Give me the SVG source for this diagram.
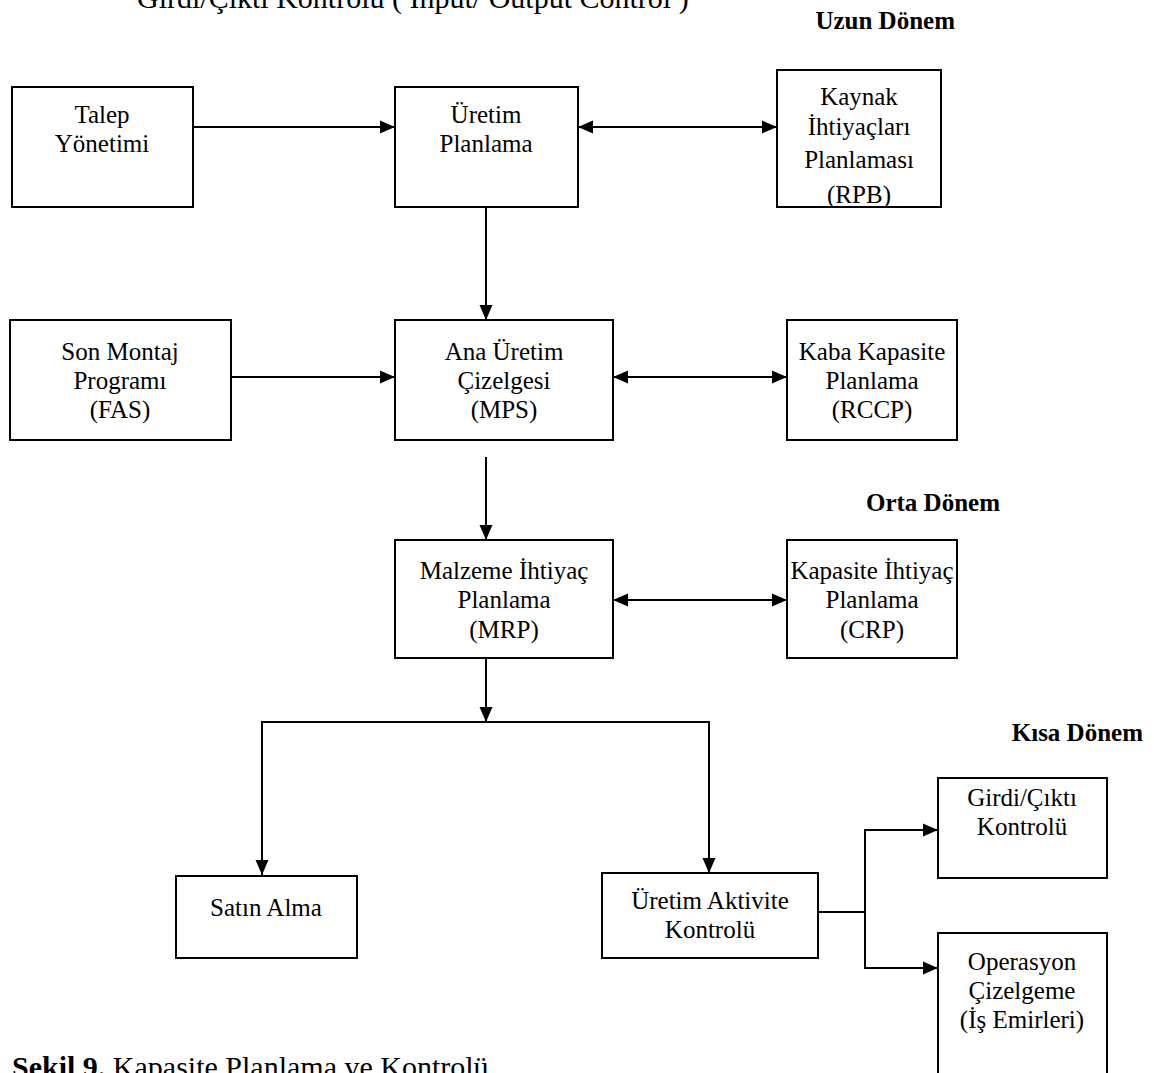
<svg xmlns="http://www.w3.org/2000/svg" width="1154" height="1073" viewBox="0 0 1154 1073">
  <style>
    .box { fill: #fff; stroke: #000; stroke-width: 2; }
    .lbl { font-family: "Liberation Serif", "Times New Roman", serif; font-size: 25px; fill: #000; text-anchor: middle; }
    .term { font-family: "Liberation Serif", "Times New Roman", serif; font-size: 25px; font-weight: bold; fill: #000; text-anchor: end; }
    .head { font-family: "Liberation Serif", "Times New Roman", serif; font-size: 30px; fill: #000; }
    .wire { fill: none; stroke: #000; stroke-width: 2; }
  </style>
  <defs>
    <marker id="tip" markerUnits="userSpaceOnUse" markerWidth="16" markerHeight="14" refX="15" refY="7" orient="auto-start-reverse">
      <path d="M0,0.5 L15,7 L0,13.5 Z" fill="#000"/>
    </marker>
    <clipPath id="rpbClip"><rect x="777" y="70" width="164" height="137"/></clipPath>
  </defs>
  <rect width="1154" height="1073" fill="#fff"/>

  <!-- heading above the chart (upper half runs off the page) -->
  <text class="head" x="137" y="8">Girdi/Çıktı Kontrolü ( Input/ Output Control )</text>

  <!-- horizon labels -->
  <text class="term" x="955" y="29">Uzun Dönem</text>
  <text class="term" x="1000" y="511">Orta Dönem</text>
  <text class="term" x="1143" y="741">Kısa Dönem</text>

  <!-- connectors -->
  <g id="connectors">
    <line class="wire" x1="189" y1="127" x2="395" y2="127" marker-end="url(#tip)"/>
    <line class="wire" x1="578" y1="127" x2="777" y2="127" marker-start="url(#tip)" marker-end="url(#tip)"/>
    <line class="wire" x1="486" y1="207" x2="486" y2="320" marker-end="url(#tip)"/>
    <line class="wire" x1="231" y1="377" x2="395" y2="377" marker-end="url(#tip)"/>
    <line class="wire" x1="613" y1="377" x2="787" y2="377" marker-start="url(#tip)" marker-end="url(#tip)"/>
    <line class="wire" x1="486" y1="457" x2="486" y2="540" marker-end="url(#tip)"/>
    <line class="wire" x1="613" y1="600" x2="787" y2="600" marker-start="url(#tip)" marker-end="url(#tip)"/>
    <line class="wire" x1="486" y1="658" x2="486" y2="722" marker-end="url(#tip)"/>
    <polyline class="wire" points="262,875 262,722 709,722 709,873"/>
    <line class="wire" x1="262" y1="740" x2="262" y2="875" marker-end="url(#tip)"/>
    <line class="wire" x1="709" y1="740" x2="709" y2="873" marker-end="url(#tip)"/>
    <polyline class="wire" points="818,912 865,912"/>
    <polyline class="wire" points="938,830 865,830 865,968 938,968"/>
    <line class="wire" x1="900" y1="830" x2="938" y2="830" marker-end="url(#tip)"/>
    <line class="wire" x1="900" y1="968" x2="938" y2="968" marker-end="url(#tip)"/>
  </g>

  <!-- long-term row -->
  <g id="talep-yonetimi">
    <rect class="box" x="12" y="87" width="181" height="120"/>
    <text class="lbl" x="102" y="123">Talep</text>
    <text class="lbl" x="102" y="152">Yönetimi</text>
  </g>
  <g id="uretim-planlama">
    <rect class="box" x="395" y="87" width="183" height="120"/>
    <text class="lbl" x="486" y="123">Üretim</text>
    <text class="lbl" x="486" y="152">Planlama</text>
  </g>
  <g id="kaynak-ihtiyaclari">
    <rect class="box" x="777" y="70" width="164" height="137"/>
    <g clip-path="url(#rpbClip)">
      <text class="lbl" x="859" y="105">Kaynak</text>
      <text class="lbl" x="859" y="135">İhtiyaçları</text>
      <text class="lbl" x="859" y="168">Planlaması</text>
      <text class="lbl" x="859" y="203">(RPB)</text>
    </g>
    <rect x="777" y="70" width="164" height="137" fill="none" stroke="#000" stroke-width="2"/>
  </g>

  <!-- master schedule row -->
  <g id="son-montaj">
    <rect class="box" x="10" y="320" width="221" height="120"/>
    <text class="lbl" x="120" y="360">Son Montaj</text>
    <text class="lbl" x="120" y="389">Programı</text>
    <text class="lbl" x="120" y="418">(FAS)</text>
  </g>
  <g id="ana-uretim">
    <rect class="box" x="395" y="320" width="218" height="120"/>
    <text class="lbl" x="504" y="360">Ana Üretim</text>
    <text class="lbl" x="504" y="389">Çizelgesi</text>
    <text class="lbl" x="504" y="418">(MPS)</text>
  </g>
  <g id="kaba-kapasite">
    <rect class="box" x="787" y="320" width="170" height="120"/>
    <text class="lbl" x="872" y="360">Kaba Kapasite</text>
    <text class="lbl" x="872" y="389">Planlama</text>
    <text class="lbl" x="872" y="418">(RCCP)</text>
  </g>

  <!-- medium-term row -->
  <g id="mrp">
    <rect class="box" x="395" y="540" width="218" height="118"/>
    <text class="lbl" x="504" y="579">Malzeme İhtiyaç</text>
    <text class="lbl" x="504" y="608">Planlama</text>
    <text class="lbl" x="504" y="638">(MRP)</text>
  </g>
  <g id="crp">
    <rect class="box" x="787" y="540" width="170" height="118"/>
    <text class="lbl" x="872" y="579">Kapasite İhtiyaç</text>
    <text class="lbl" x="872" y="608">Planlama</text>
    <text class="lbl" x="872" y="638">(CRP)</text>
  </g>

  <!-- short-term row -->
  <g id="satin-alma">
    <rect class="box" x="176" y="876" width="181" height="82"/>
    <text class="lbl" x="266" y="916">Satın Alma</text>
  </g>
  <g id="uretim-aktivite">
    <rect class="box" x="602" y="873" width="216" height="85"/>
    <text class="lbl" x="710" y="909">Üretim Aktivite</text>
    <text class="lbl" x="710" y="938">Kontrolü</text>
  </g>
  <g id="girdi-cikti">
    <rect class="box" x="938" y="778" width="169" height="100"/>
    <text class="lbl" x="1022" y="806">Girdi/Çıktı</text>
    <text class="lbl" x="1022" y="835">Kontrolü</text>
  </g>
  <g id="operasyon">
    <rect class="box" x="938" y="933" width="169" height="160"/>
    <text class="lbl" x="1022" y="970">Operasyon</text>
    <text class="lbl" x="1022" y="999">Çizelgeme</text>
    <text class="lbl" x="1022" y="1028">(İş Emirleri)</text>
  </g>

  <!-- figure caption (lower half runs off the page) -->
  <text class="head" x="12" y="1077"><tspan font-weight="bold">Şekil 9.</tspan> Kapasite Planlama ve Kontrolü</text>
</svg>
